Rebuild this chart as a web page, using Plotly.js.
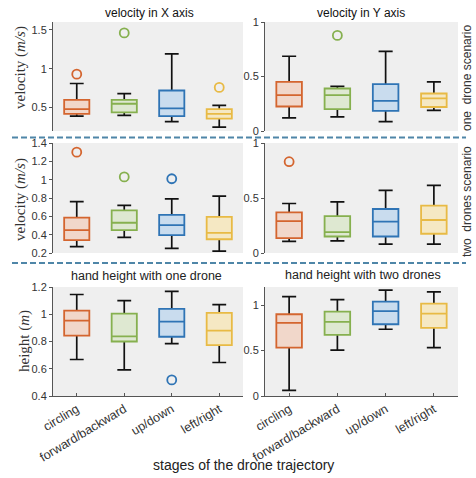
<!DOCTYPE html>
<html><head><meta charset="utf-8">
<script src="https://cdn.plot.ly/plotly-3.0.1.min.js"></script>
<style>html,body{margin:0;padding:0;background:#fff}#chart{width:476px;height:478px}</style>
</head><body><div id="chart"></div>
<script>
const categories = ['circling', 'forward/backward', 'up/down', 'left/right'];
const lineColors = ['#D4652F', '#86B04F', '#2F74B5', '#E8BA45'];
const fillColors = ['#F1D7CA', '#DEE8D1', '#C9DCEE', '#F5E8C3'];

// Panel 1: velocity in X axis, one drone
const vx1_low = [0.39, 0.40, 0.32, 0.25];
const vx1_q1 = [0.42, 0.44, 0.39, 0.36];
const vx1_med = [0.48, 0.55, 0.49, 0.42];
const vx1_q3 = [0.60, 0.60, 0.72, 0.48];
const vx1_up = [0.81, 0.68, 1.19, 0.53];
const vx1_outX = ['circling', 'forward/backward', 'left/right'];
const vx1_outY = [0.93, 1.46, 0.76];

// Panel 2: velocity in Y axis, one drone
const vy1_low = [0.12, 0.13, 0.086, 0.19];
const vy1_q1 = [0.225, 0.20, 0.185, 0.22];
const vy1_med = [0.33, 0.33, 0.277, 0.30];
const vy1_q3 = [0.45, 0.39, 0.43, 0.344];
const vy1_up = [0.686, 0.41, 0.73, 0.45];
const vy1_outX = ['forward/backward'];
const vy1_outY = [0.877];

// Panel 3: velocity in X axis, two drones
const vx2_low = [0.27, 0.37, 0.25, 0.22];
const vx2_q1 = [0.34, 0.45, 0.395, 0.35];
const vx2_med = [0.45, 0.53, 0.505, 0.42];
const vx2_q3 = [0.585, 0.665, 0.615, 0.595];
const vx2_up = [0.76, 0.72, 0.79, 0.82];
const vx2_outX = ['circling', 'forward/backward', 'up/down'];
const vx2_outY = [1.30, 1.03, 1.01];

// Panel 4: velocity in Y axis, two drones
const vy2_low = [0.105, 0.11, 0.08, 0.08];
const vy2_q1 = [0.135, 0.15, 0.15, 0.175];
const vy2_med = [0.29, 0.19, 0.285, 0.30];
const vy2_q3 = [0.37, 0.335, 0.40, 0.43];
const vy2_up = [0.45, 0.465, 0.57, 0.615];
const vy2_outX = ['circling'];
const vy2_outY = [0.83];

// Panel 5: hand height with one drone
const h1_low = [0.668, 0.592, 0.784, 0.646];
const h1_q1 = [0.843, 0.80, 0.835, 0.774];
const h1_med = [0.953, 0.838, 0.946, 0.88];
const h1_q3 = [1.027, 1.005, 1.04, 1.01];
const h1_up = [1.145, 1.10, 1.168, 1.07];
const h1_outX = ['up/down'];
const h1_outY = [0.518];

// Panel 6: hand height with two drones
const h2_low = [0.063, 0.504, 0.735, 0.533];
const h2_q1 = [0.533, 0.673, 0.79, 0.75];
const h2_med = [0.805, 0.816, 0.934, 0.907];
const h2_q3 = [0.90, 0.93, 1.04, 1.018];
const h2_up = [1.095, 1.062, 1.165, 1.147];
const h2_outX = [];
const h2_outY = [];

const panels = [
  {ax: '', low: vx1_low, q1: vx1_q1, med: vx1_med, q3: vx1_q3, up: vx1_up, ox: vx1_outX, oy: vx1_outY},
  {ax: '2', low: vy1_low, q1: vy1_q1, med: vy1_med, q3: vy1_q3, up: vy1_up, ox: vy1_outX, oy: vy1_outY},
  {ax: '3', low: vx2_low, q1: vx2_q1, med: vx2_med, q3: vx2_q3, up: vx2_up, ox: vx2_outX, oy: vx2_outY},
  {ax: '4', low: vy2_low, q1: vy2_q1, med: vy2_med, q3: vy2_q3, up: vy2_up, ox: vy2_outX, oy: vy2_outY},
  {ax: '5', low: h1_low, q1: h1_q1, med: h1_med, q3: h1_q3, up: h1_up, ox: h1_outX, oy: h1_outY},
  {ax: '6', low: h2_low, q1: h2_q1, med: h2_med, q3: h2_q3, up: h2_up, ox: h2_outX, oy: h2_outY}
];

const traces = [];
const BW = 0.53;
panels.forEach(p => {
  const xa = 'x' + p.ax, ya = 'y' + p.ax;
  categories.forEach((c, i) => {
    traces.push({type: 'box', xaxis: xa, yaxis: ya, x: [c],
      q1: [p.med[i]], median: [p.med[i]], q3: [p.med[i]],
      lowerfence: [p.low[i]], upperfence: [p.up[i]],
      width: BW, whiskerwidth: 0.55, boxpoints: false,
      line: {color: '#111', width: 1.7}, fillcolor: 'rgba(0,0,0,0)',
      showlegend: false, hoverinfo: 'skip'});
  });
  categories.forEach((c, i) => {
    traces.push({type: 'box', xaxis: xa, yaxis: ya, x: [c],
      q1: [p.q1[i]], median: [p.med[i]], q3: [p.q3[i]],
      lowerfence: [p.q1[i]], upperfence: [p.q3[i]],
      width: BW, whiskerwidth: 0, boxpoints: false,
      line: {color: lineColors[i], width: 1.8}, fillcolor: fillColors[i],
      showlegend: false, hoverinfo: 'skip'});
  });
  if (p.ox.length) {
    traces.push({type: 'scatter', mode: 'markers', xaxis: xa, yaxis: ya,
      x: p.ox, y: p.oy, showlegend: false, hoverinfo: 'skip',
      marker: {symbol: 'circle-open', size: 9,
        color: p.ox.map(c => lineColors[categories.indexOf(c)]),
        line: {width: 1.8}}});
  }
});

const tickFont = {family: 'Liberation Sans, Arial, sans-serif', size: 11, color: '#333'};
const xTickFont = {family: 'Liberation Sans, Arial, sans-serif', size: 12.5, color: '#333'};
const xL = [53/476, 243/476], xR = [265/476, 458/476];
const r1 = [1-131/478, 1-22/478], r2 = [1-253/478, 1-143/478], r3 = [1-396/478, 1-287/478];

function xaxis(dom, anchor, bottom) {
  return {domain: dom, anchor: anchor, type: 'category', categoryarray: categories,
    range: [-0.5, 3.5], showgrid: false, zeroline: false,
    showline: bottom, linecolor: '#555', linewidth: 1,
    ticks: bottom ? 'inside' : '', ticklen: 3, tickcolor: '#555',
    showticklabels: bottom, tickangle: -31, tickfont: xTickFont, fixedrange: true};
}
function yaxis(dom, anchor, range, tick0, dtick) {
  return {domain: dom, anchor: anchor, range: range, tick0: tick0, dtick: dtick,
    showgrid: false, zeroline: false, showline: true, linecolor: '#555', linewidth: 1,
    ticks: 'outside', ticklen: 3, tickcolor: '#555', tickfont: tickFont, fixedrange: true};
}

const serif = 'Liberation Serif, DejaVu Serif, serif';
const sans = 'Liberation Sans, Arial, sans-serif';
function ann(text, px, py, size, family, color, angle) {
  return {text: text, xref: 'paper', yref: 'paper', x: px/476, y: 1-py/478,
    xanchor: 'center', yanchor: 'middle', showarrow: false, textangle: angle || 0,
    font: {family: family, size: size, color: color}};
}
const layout = {
  width: 476, height: 478, margin: {l: 0, r: 0, t: 0, b: 0},
  paper_bgcolor: '#fff', plot_bgcolor: '#EFEFEF', boxmode: 'overlay', showlegend: false,
  xaxis: xaxis(xL, 'y', false), yaxis: yaxis(r1, 'x', [0.2, 1.6], 0.5, 0.5),
  xaxis2: xaxis(xR, 'y2', false), yaxis2: yaxis(r1, 'x2', [0, 1], 0, 0.5),
  xaxis3: xaxis(xL, 'y3', false), yaxis3: yaxis(r2, 'x3', [0.2, 1.4], 0.2, 0.2),
  xaxis4: xaxis(xR, 'y4', false), yaxis4: yaxis(r2, 'x4', [0, 1], 0, 0.5),
  xaxis5: xaxis(xL, 'y5', true), yaxis5: yaxis(r3, 'x5', [0.4, 1.2], 0.4, 0.2),
  xaxis6: xaxis(xR, 'y6', true), yaxis6: yaxis(r3, 'x6', [0, 1.2], 0, 0.5),
  shapes: [
    {type: 'line', xref: 'paper', yref: 'paper', x0: 12/476, x1: 466/476, y0: 1-137.5/478, y1: 1-137.5/478,
      line: {color: '#4F86A8', width: 2, dash: '6px,3px'}},
    {type: 'line', xref: 'paper', yref: 'paper', x0: 12/476, x1: 466/476, y0: 1-263/478, y1: 1-263/478,
      line: {color: '#4F86A8', width: 2, dash: '6px,3px'}}
  ],
  annotations: [
    ann('velocity in X axis', 149, 13, 12, sans, '#111'),
    ann('velocity in Y axis', 361, 13, 12, sans, '#111'),
    ann('hand height with one drone', 146, 276, 12.5, sans, '#222'),
    ann('hand height with two drones', 363, 275, 12.5, sans, '#222'),
    ann('stages of the drone trajectory', 244, 465, 14, sans, '#222'),
    ann('velocity (<i>m/s</i>)', 20, 68, 15, serif, '#333', -90),
    ann('velocity (<i>m/s</i>)', 20, 200, 15, serif, '#333', -90),
    ann('height (<i>m</i>)', 24, 341, 15, serif, '#333', -90),
    ann('one  drone scenario', 467, 78, 12, sans, '#333', -90),
    ann('two  drones scenario', 467, 202, 12, sans, '#333', -90)
  ]
};

Plotly.newPlot('chart', traces, layout, {displayModeBar: false, staticPlot: true});
</script></body></html>
